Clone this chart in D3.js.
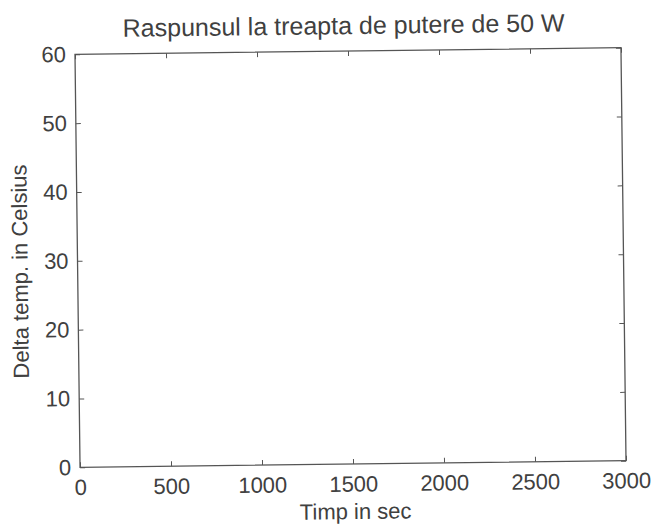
<!DOCTYPE html>
<html>
<head>
<meta charset="utf-8">
<script src="https://cdn.jsdelivr.net/npm/d3@7"></script>
<style>
  body { margin: 0; background: #fff; }
  text { font-family: "Liberation Sans", Arial, sans-serif; fill: #404040; }
</style>
</head>
<body>
<div id="chart"></div>
<script>
// Axis limits and tick labels
const xTicks = [0, 500, 1000, 1500, 2000, 2500, 3000];
const yTicks = [0, 10, 20, 30, 40, 50, 60];
const xDomain = [0, 3000];
const yDomain = [0, 60];

const titleText = "Raspunsul la treapta de putere de 50 W";
const xLabel = "Timp in sec";
const yLabel = "Delta temp. in Celsius";

// Dimensions and margins of the graph
const W = 656, H = 527;
const margin = {top: 51, right: 32.5, bottom: 63, left: 77.5},
width = W - margin.left - margin.right,
height = H - margin.top - margin.bottom;

const root = d3.select("#chart").append("svg")
.attr("width", W)
.attr("height", H);

// the scan is a bit tilted, turn everything round the frame centre
const cx = margin.left + width / 2, cy = margin.top + height / 2;
const svg = root.append("g")
.attr("transform", `rotate(-0.7, ${cx}, ${cy})`)
.append("g")
.attr("transform", `translate(${margin.left},${margin.top})`);

const x = d3.scaleLinear().domain(xDomain).range([0, width]);
const y = d3.scaleLinear().domain(yDomain).range([height, 0]);

const lineCol = "#555";
const fmt = d3.format("d");

// Frame
svg.append("rect")
.attr("width", width)
.attr("height", height)
.attr("fill", "none")
.attr("stroke", lineCol)
.attr("stroke-width", 1.3);

// Bottom axis, ticks inside
const xAxis = svg.append("g")
.attr("transform", `translate(0,${height})`)
.call(d3.axisBottom(x).tickValues(xTicks).tickFormat(fmt).tickSizeInner(-5).tickSizeOuter(0).tickPadding(12));
xAxis.select(".domain").remove();
xAxis.selectAll("line").attr("stroke", lineCol);
xAxis.selectAll("text").style("font-size", "22px").attr("fill", "#404040");

// Top mirror ticks
svg.append("g")
.call(d3.axisTop(x).tickValues(xTicks).tickSizeInner(-5).tickSizeOuter(0).tickFormat(""))
.call(g => g.select(".domain").remove())
.selectAll("line").attr("stroke", lineCol);

// Left axis
const yAxis = svg.append("g")
.call(d3.axisLeft(y).tickValues(yTicks).tickFormat(fmt).tickSizeInner(-5).tickSizeOuter(0).tickPadding(9));
yAxis.select(".domain").remove();
yAxis.selectAll("line").attr("stroke", lineCol);
yAxis.selectAll("text").style("font-size", "22px").attr("fill", "#404040");

// Right mirror ticks
svg.append("g")
.attr("transform", `translate(${width},0)`)
.call(d3.axisRight(y).tickValues(yTicks).tickSizeInner(-5).tickSizeOuter(0).tickFormat(""))
.call(g => g.select(".domain").remove())
.selectAll("line").attr("stroke", lineCol);

// Title and axis labels
svg.append("text")
.attr("x", width / 2 - 4)
.attr("y", -17)
.attr("text-anchor", "middle")
.style("font-size", "25px")
.text(titleText);

svg.append("text")
.attr("x", width / 2 + 2)
.attr("y", height + 55)
.attr("text-anchor", "middle")
.style("font-size", "22px")
.text(xLabel);

svg.append("text")
.attr("transform", `translate(${-50},${height / 2 + 10}) rotate(-90)`)
.attr("text-anchor", "middle")
.style("font-size", "22px")
.text(yLabel);
</script>
</body>
</html>
